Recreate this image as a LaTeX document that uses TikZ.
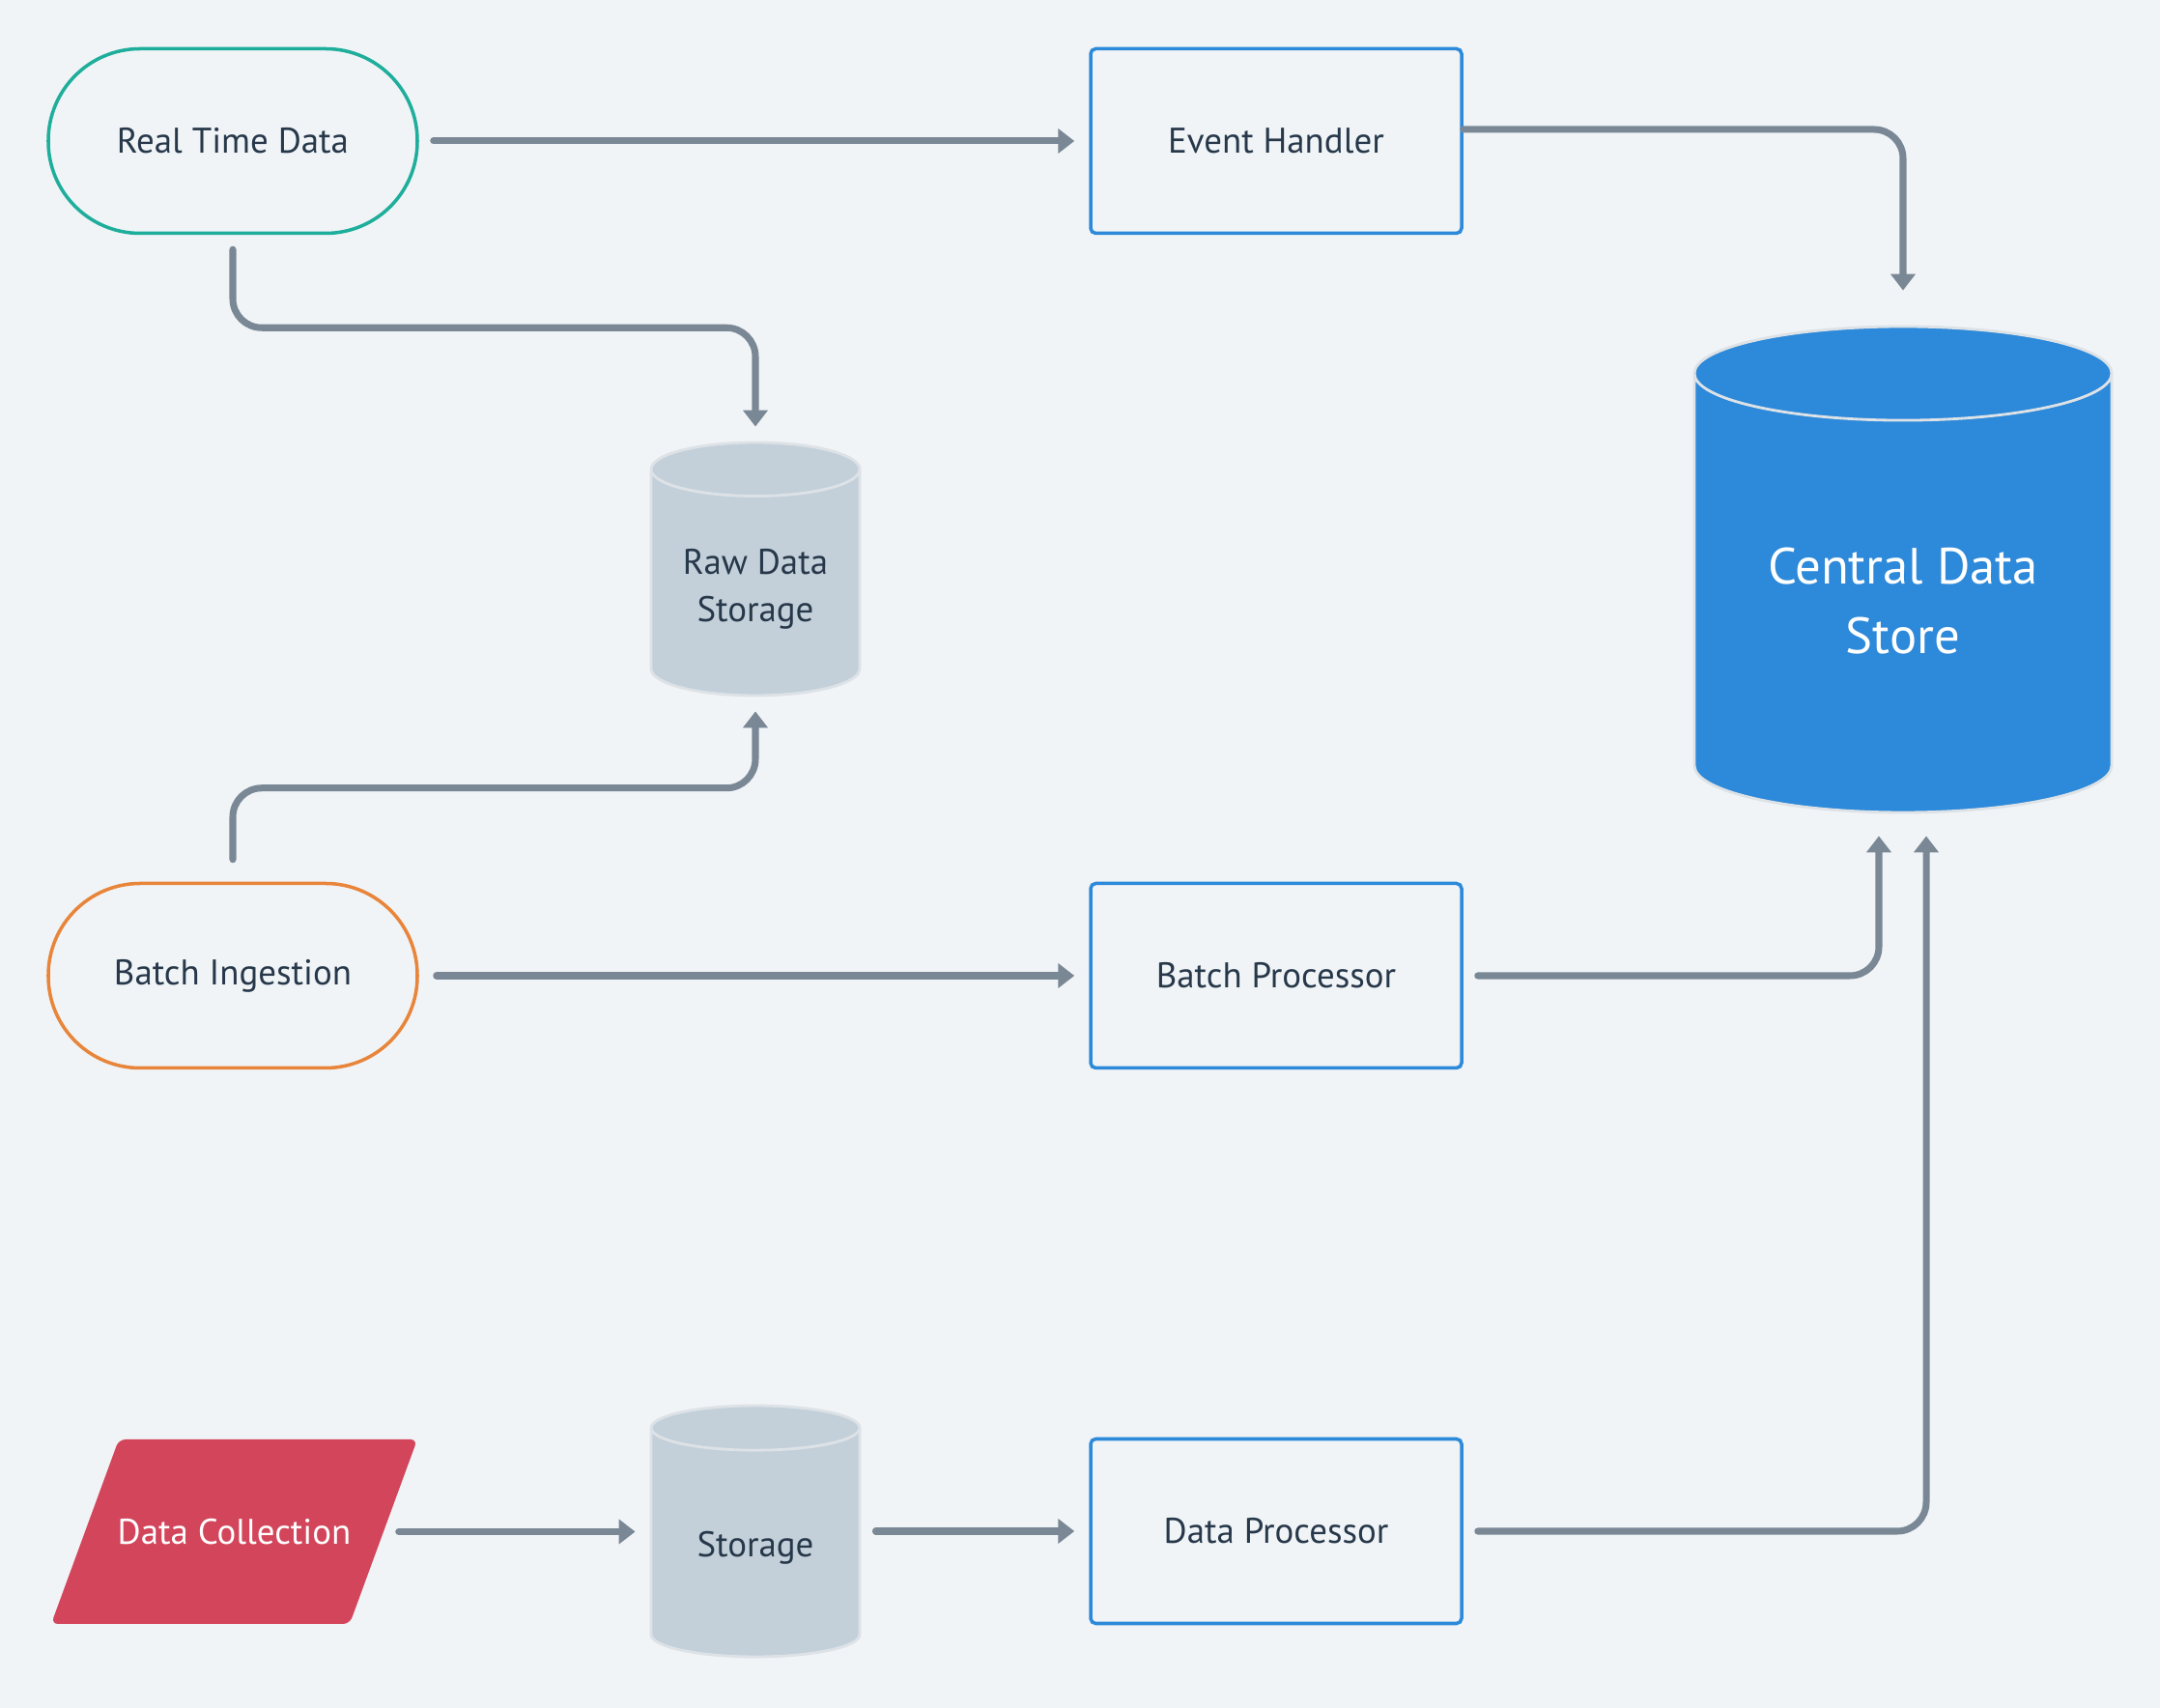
\documentclass[tikz,border=0pt]{standalone}
\usepackage{fontspec}
\setmainfont{PT Sans}
\usetikzlibrary{arrows.meta,shapes.geometric}

\definecolor{bg}{HTML}{F0F4F7}
\definecolor{ink}{HTML}{27384A}
\definecolor{tealline}{HTML}{1EAE9B}
\definecolor{orangeline}{HTML}{E8853A}
\definecolor{boxblue}{HTML}{2D89D9}
\definecolor{cylgray}{HTML}{C3D0DA}
\definecolor{rim}{HTML}{DDE2E7}
\definecolor{collectred}{HTML}{D3455B}
\definecolor{flowgray}{HTML}{7A8896}

\tikzset{
  startnode/.style={draw=#1, line width=1pt, rounded corners=0.95cm, minimum width=3.82cm, minimum height=1.91cm, text=ink, font=\fontsize{10.5}{14}\selectfont},
  procbox/.style={draw=boxblue, line width=1pt, rounded corners=1.5pt, minimum width=3.84cm, minimum height=1.91cm, text=ink, font=\fontsize{10.5}{14}\selectfont},
  storecyl/.style={cylinder, shape border rotate=90, aspect=0.32, anchor=shape center, draw=rim, line width=0.8pt, fill=cylgray, minimum width=2.16cm, minimum height=2.62cm, align=center, text=ink, font=\fontsize{10.5}{13.8}\selectfont},
  inputslant/.style={minimum width=3.79cm, minimum height=1.91cm, inner sep=0pt, text=white, font=\fontsize{10.5}{14}\selectfont,
    path picture={\fill[collectred, rounded corners=2pt] ([xshift=0.70cm]path picture bounding box.north west) -- (path picture bounding box.north east) -- ([xshift=-0.70cm]path picture bounding box.south east) -- (path picture bounding box.south west) -- cycle;}},
  flow/.style={draw=flowgray, line width=2pt, line cap=round, rounded corners=0.3cm, -{Triangle[length=0.17cm,width=0.25cm]}, shorten <=0.15cm, shorten >=0.15cm}
}

\begin{document}
\begin{tikzpicture}
  \fill[bg] (0,0) rectangle (22.36,-17.68);
  \useasboundingbox (0,0) rectangle (22.36,-17.68);

  \node[startnode=tealline] (rtd) at (2.41,-1.46) {Real Time Data};
  \node[procbox] (eh) at (13.21,-1.46) {Event Handler};
  \node[storecyl, fill=boxblue, minimum width=4.32cm, minimum height=5.03cm, text=white, font=\fontsize{15}{20.5}\selectfont] (cds) at (19.70,-5.895) {Central Data\\Store};
  \node[storecyl] (raw) at (7.82,-5.89) {Raw Data\\Storage};
  \node[startnode=orangeline] (bi) at (2.41,-10.10) {Batch Ingestion};
  \node[procbox] (bp) at (13.21,-10.10) {Batch Processor};
  \node[inputslant] (dc) at (2.425,-15.855) {Data Collection};
  \node[storecyl, minimum height=2.60cm] (st) at (7.82,-15.85) {Storage};
  \node[procbox] (dp) at (13.21,-15.85) {Data Processor};

  \draw[flow] (rtd) -- (eh);
  \draw[flow, shorten <=0pt, shorten >=0.36cm] ([yshift=0.12cm]eh.east) -| (cds.north);
  \draw[flow] (rtd.south) -- ++(0,-0.96) -| (raw.north);
  \draw[flow, shorten <=0.23cm] (bi.north) -- ++(0,0.97) -| (raw.south);
  \draw[flow, shorten <=0.18cm] (bi) -- (bp);
  \draw[flow, shorten >=0.23cm] (bp.east) -| ([xshift=-0.25cm]cds.south);
  \draw[flow] ([xshift=-0.35cm]dc.east) -- (dc.east -| st.west);
  \draw[flow] (st.east |- dp.west) -- (dp.west);
  \draw[flow, shorten >=0.23cm] (dp.east) -| ([xshift=0.24cm]cds.south);
\end{tikzpicture}
\end{document}
